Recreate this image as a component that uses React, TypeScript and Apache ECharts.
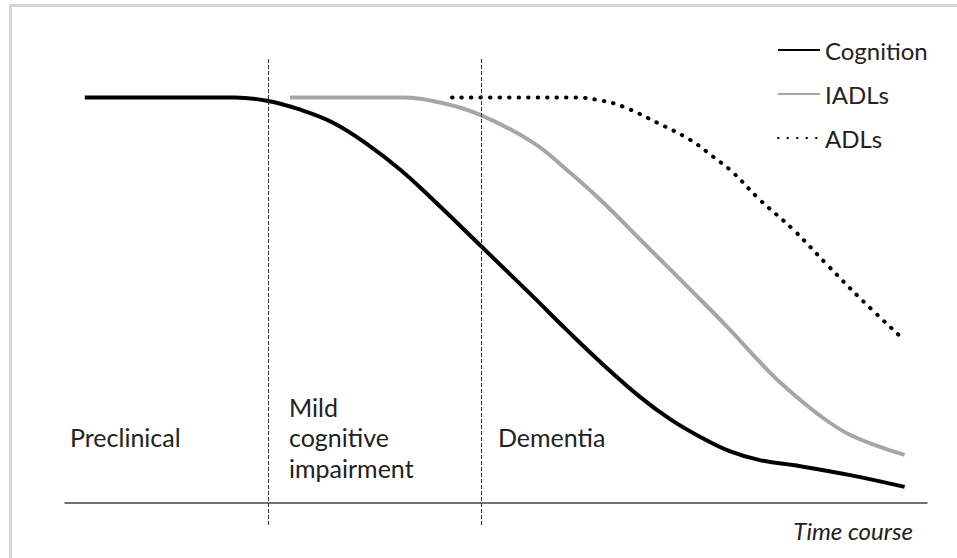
import React, { useEffect, useRef } from "react";
import * as echarts from "echarts";

// time course (0-100) vs functional level (0-100)
const cognition: [number, number][] = [
  [2.3, 100], [11.0, 100], [19.7, 100], [23.4, 99.2], [27.3, 97.0], [31.1, 93.8],
  [35.0, 88.6], [38.9, 82.2], [42.7, 74.8], [48.1, 63.7], [54.3, 50.9], [58.2, 42.7],
  [62.1, 34.8], [66.7, 26.2], [70.2, 20.7], [73.7, 16.3], [77.1, 12.8], [80.6, 10.6],
  [85.3, 9.1], [91.1, 6.9], [97.4, 4.0],
];
const iadls: [number, number][] = [
  [26.1, 100], [33.1, 100], [38.9, 100], [43.5, 98.8], [48.1, 95.8], [54.3, 88.9],
  [58.2, 82.2], [62.1, 74.8], [67.1, 64.2], [72.9, 51.9], [76.8, 43.5], [80.6, 34.8],
  [83.3, 29.1], [87.2, 22.2], [91.1, 16.8], [97.4, 11.9],
];
const adls: [number, number][] = [
  [44.9, 100], [52.8, 100], [59.2, 100], [62.1, 99.3], [64.7, 97.8], [68.7, 93.8],
  [72.5, 89.6], [75.2, 85.4], [77.5, 81.5], [80.6, 74.8], [84.5, 67.4], [88.4, 58.8],
  [92.2, 50.6], [97.1, 40.7],
];
const stageBoundaries = [23.55, 48.26];
const seriesNames = ["Cognition", "IADLs", "ADLs"];
const stageLabels = ["Preclinical", "Mild\ncognitive\nimpairment", "Dementia"];
const axisName = "Time course";

const FONT = "Lato, 'Noto Sans', sans-serif";

export default function App() {
  const ref = useRef<HTMLDivElement>(null);
  useEffect(() => {
    if (!ref.current) return;
    const chart = echarts.init(ref.current, undefined, { renderer: "svg" });
    const textStyle = { fontFamily: FONT, fontSize: 25, fill: "#222" };
    chart.setOption({
      animation: false,
      backgroundColor: "#fff",
      grid: { left: 65, right: 30, top: 57, bottom: 33 },
      legend: {
        orient: "vertical",
        left: 772,
        top: 33,
        itemWidth: 42,
        itemHeight: 14,
        itemGap: 20,
        data: seriesNames,
        itemStyle: { opacity: 0 },
        textStyle: { fontFamily: FONT, fontSize: 24, color: "#222", lineHeight: 24 },
      },
      xAxis: {
        type: "value",
        min: 0,
        max: 100,
        axisLine: { show: true, onZero: true, lineStyle: { color: "#444", width: 1.5 } },
        axisTick: { show: false },
        axisLabel: { show: false },
        splitLine: { show: false },
      },
      yAxis: {
        type: "value",
        min: -5.4,
        max: 110,
        show: false,
        splitLine: { show: false },
      },
      graphic: [
        {
          type: "rect",
          shape: { x: 10.5, y: 5.5, width: 1200, height: 1200 },
          style: { fill: "none", stroke: "#d6d6d6", lineWidth: 3 },
          silent: true,
        },
        {
          type: "text",
          x: 70,
          y: 437,
          style: { ...textStyle, text: stageLabels[0], verticalAlign: "middle" },
        },
        {
          type: "text",
          x: 289,
          y: 437,
          style: { ...textStyle, text: stageLabels[1], verticalAlign: "middle", lineHeight: 30.5 },
        },
        {
          type: "text",
          x: 498,
          y: 437,
          style: { ...textStyle, text: stageLabels[2], verticalAlign: "middle" },
        },
        {
          type: "text",
          x: 913,
          y: 530,
          style: {
            ...textStyle,
            fontSize: 24,
            text: axisName,
            fontStyle: "italic",
            align: "right",
            verticalAlign: "middle",
          },
        },
      ],
      series: [
        {
          name: seriesNames[0],
          type: "line",
          data: cognition,
          symbol: "none",
          smooth: 0.4,
          lineStyle: { color: "#000", width: 4 },
          itemStyle: { color: "#000" },
          z: 3,
          markLine: {
            silent: true,
            symbol: ["none", "none"],
            label: { show: false },
            lineStyle: { color: "#333", width: 1, type: [4, 2] },
            data: stageBoundaries.map((v) => ({ xAxis: v })),
          },
        },
        {
          name: seriesNames[1],
          type: "line",
          data: iadls,
          symbol: "none",
          smooth: 0.4,
          lineStyle: { color: "#a6a6a6", width: 4 },
          itemStyle: { color: "#a6a6a6" },
          z: 2,
        },
        {
          name: seriesNames[2],
          type: "line",
          data: adls,
          symbol: "none",
          smooth: 0.4,
          lineStyle: { color: "#000", width: 4, type: [0.5, 9], cap: "round" },
          itemStyle: { color: "#000" },
          z: 2,
        },
      ],
    });
    return () => chart.dispose();
  }, []);
  return (
    <div
      ref={ref}
      style={{ position: "fixed", left: 0, top: 0, width: 957, height: 558, background: "#fff" }}
    />
  );
}
